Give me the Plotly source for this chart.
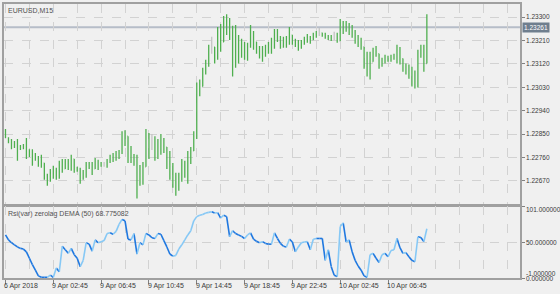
import plotly.graph_objects as go

# ---------------- data ----------------
tick_bars = [0, 16, 32, 48, 64, 80, 96, 112, 128]
tick_labels = ["6 Apr 2018", "9 Apr 02:45", "9 Apr 06:45", "9 Apr 10:45", "9 Apr 14:45",
               "9 Apr 18:45", "9 Apr 22:45", "10 Apr 02:45", "10 Apr 06:45"]
price_ticks = [1.22670, 1.22760, 1.22850, 1.22940, 1.23030, 1.23120, 1.23210, 1.23300]
last_price = 1.23261

open_ = [1.22857, 1.22831, 1.22823, 1.22808, 1.22812, 1.22796, 1.22800, 1.22804, 1.22785, 1.22777,
         1.22766, 1.22758, 1.22743, 1.22739, 1.22690, 1.22670, 1.22701, 1.22709, 1.22693, 1.22728,
         1.22716, 1.22739, 1.22728, 1.22754, 1.22716, 1.22712, 1.22678, 1.22705, 1.22731, 1.22728,
         1.22716, 1.22747, 1.22731, 1.22735, 1.22735, 1.22747, 1.22758, 1.22766, 1.22773, 1.22781,
         1.22823, 1.22842, 1.22785, 1.22766, 1.22747, 1.22701, 1.22678, 1.22724, 1.22823, 1.22804,
         1.22804, 1.22796, 1.22785, 1.22823, 1.22800, 1.22747, 1.22728, 1.22678, 1.22670, 1.22670,
         1.22728, 1.22716, 1.22747, 1.22785, 1.22842, 1.23014, 1.23033, 1.23082, 1.23121, 1.23174,
         1.23185, 1.23147, 1.23224, 1.23204, 1.23262, 1.23281, 1.23250, 1.23147, 1.23204, 1.23174,
         1.23185, 1.23166, 1.23185, 1.23243, 1.23204, 1.23185, 1.23166, 1.23174, 1.23166, 1.23185,
         1.23204, 1.23231, 1.23224, 1.23204, 1.23197, 1.23212, 1.23231, 1.23212, 1.23204, 1.23185,
         1.23204, 1.23212, 1.23224, 1.23212, 1.23231, 1.23239, 1.23239, 1.23231, 1.23224, 1.23220,
         1.23224, 1.23227, 1.23208, 1.23273, 1.23254, 1.23262, 1.23243, 1.23231, 1.23212, 1.23197,
         1.23185, 1.23128, 1.23121, 1.23128, 1.23166, 1.23159, 1.23121, 1.23128, 1.23140, 1.23140,
         1.23147, 1.23151, 1.23174, 1.23140, 1.23109, 1.23098, 1.23082, 1.23052, 1.23037, 1.23147,
         1.23174, 1.23121]

high = [1.22869, 1.22838, 1.22831, 1.22823, 1.22831, 1.22808, 1.22812, 1.22835, 1.22792, 1.22792,
        1.22777, 1.22766, 1.22770, 1.22739, 1.22697, 1.22716, 1.22728, 1.22720, 1.22747, 1.22754,
        1.22754, 1.22754, 1.22770, 1.22754, 1.22724, 1.22720, 1.22712, 1.22743, 1.22743, 1.22743,
        1.22758, 1.22751, 1.22743, 1.22743, 1.22754, 1.22770, 1.22777, 1.22785, 1.22789, 1.22861,
        1.22865, 1.22842, 1.22804, 1.22773, 1.22770, 1.22731, 1.22743, 1.22869, 1.22854, 1.22850,
        1.22842, 1.22831, 1.22850, 1.22835, 1.22800, 1.22785, 1.22739, 1.22701, 1.22701, 1.22754,
        1.22747, 1.22785, 1.22800, 1.22861, 1.23048, 1.23060, 1.23105, 1.23136, 1.23193, 1.23224,
        1.23185, 1.23262, 1.23273, 1.23304, 1.23311, 1.23296, 1.23266, 1.23269, 1.23231, 1.23216,
        1.23204, 1.23201, 1.23269, 1.23246, 1.23204, 1.23189, 1.23189, 1.23193, 1.23204, 1.23220,
        1.23254, 1.23254, 1.23227, 1.23224, 1.23227, 1.23262, 1.23231, 1.23216, 1.23212, 1.23212,
        1.23224, 1.23235, 1.23227, 1.23239, 1.23246, 1.23258, 1.23239, 1.23239, 1.23231, 1.23231,
        1.23243, 1.23239, 1.23292, 1.23285, 1.23285, 1.23277, 1.23269, 1.23250, 1.23231, 1.23220,
        1.23185, 1.23166, 1.23166, 1.23182, 1.23189, 1.23159, 1.23143, 1.23155, 1.23151, 1.23155,
        1.23159, 1.23193, 1.23185, 1.23140, 1.23121, 1.23117, 1.23109, 1.23094, 1.23174, 1.23193,
        1.23193, 1.23311]

low = [1.22835, 1.22815, 1.22792, 1.22796, 1.22747, 1.22789, 1.22792, 1.22754, 1.22762, 1.22728,
       1.22747, 1.22724, 1.22720, 1.22674, 1.22651, 1.22667, 1.22678, 1.22674, 1.22678, 1.22701,
       1.22716, 1.22712, 1.22709, 1.22701, 1.22705, 1.22659, 1.22674, 1.22682, 1.22716, 1.22693,
       1.22716, 1.22712, 1.22724, 1.22724, 1.22720, 1.22739, 1.22743, 1.22747, 1.22754, 1.22773,
       1.22804, 1.22739, 1.22739, 1.22728, 1.22602, 1.22651, 1.22655, 1.22724, 1.22754, 1.22789,
       1.22747, 1.22754, 1.22770, 1.22777, 1.22716, 1.22674, 1.22644, 1.22613, 1.22632, 1.22667,
       1.22682, 1.22659, 1.22735, 1.22785, 1.22831, 1.22995, 1.23033, 1.23079, 1.23109, 1.23159,
       1.23121, 1.23136, 1.23166, 1.23204, 1.23231, 1.23212, 1.23071, 1.23105, 1.23121, 1.23143,
       1.23136, 1.23132, 1.23182, 1.23174, 1.23159, 1.23140, 1.23128, 1.23147, 1.23159, 1.23159,
       1.23178, 1.23204, 1.23178, 1.23182, 1.23182, 1.23193, 1.23193, 1.23185, 1.23170, 1.23178,
       1.23193, 1.23201, 1.23197, 1.23212, 1.23220, 1.23227, 1.23224, 1.23216, 1.23212, 1.23208,
       1.23212, 1.23201, 1.23208, 1.23235, 1.23243, 1.23231, 1.23220, 1.23197, 1.23185, 1.23174,
       1.23101, 1.23071, 1.23060, 1.23128, 1.23147, 1.23101, 1.23109, 1.23121, 1.23128, 1.23128,
       1.23136, 1.23121, 1.23117, 1.23090, 1.23079, 1.23063, 1.23033, 1.23025, 1.23029, 1.23143,
       1.23090, 1.23121]

close = [1.22850, 1.22823, 1.22808, 1.22812, 1.22796, 1.22800, 1.22804, 1.22785, 1.22777, 1.22766,
         1.22758, 1.22743, 1.22747, 1.22701, 1.22670, 1.22701, 1.22709, 1.22693, 1.22728, 1.22716,
         1.22739, 1.22728, 1.22754, 1.22716, 1.22712, 1.22678, 1.22705, 1.22731, 1.22728, 1.22716,
         1.22747, 1.22731, 1.22735, 1.22735, 1.22747, 1.22758, 1.22766, 1.22773, 1.22781, 1.22823,
         1.22842, 1.22785, 1.22766, 1.22747, 1.22701, 1.22678, 1.22724, 1.22823, 1.22804, 1.22804,
         1.22796, 1.22785, 1.22823, 1.22800, 1.22747, 1.22728, 1.22678, 1.22670, 1.22674, 1.22728,
         1.22716, 1.22747, 1.22785, 1.22842, 1.23014, 1.23033, 1.23082, 1.23121, 1.23159, 1.23174,
         1.23147, 1.23224, 1.23204, 1.23262, 1.23281, 1.23250, 1.23147, 1.23204, 1.23174, 1.23185,
         1.23166, 1.23185, 1.23243, 1.23204, 1.23185, 1.23166, 1.23174, 1.23166, 1.23185, 1.23204,
         1.23231, 1.23224, 1.23204, 1.23197, 1.23212, 1.23231, 1.23212, 1.23204, 1.23185, 1.23204,
         1.23212, 1.23224, 1.23212, 1.23231, 1.23239, 1.23239, 1.23231, 1.23224, 1.23220, 1.23216,
         1.23224, 1.23208, 1.23273, 1.23254, 1.23262, 1.23243, 1.23231, 1.23212, 1.23197, 1.23185,
         1.23128, 1.23121, 1.23128, 1.23166, 1.23159, 1.23121, 1.23128, 1.23140, 1.23143, 1.23147,
         1.23151, 1.23174, 1.23140, 1.23109, 1.23098, 1.23082, 1.23052, 1.23037, 1.23147, 1.23174,
         1.23121, 1.23261]

rsi = [60, 53, 49, 46, 43, 41, 40, 36, 27, 18,
       10, 2, 0, 0, 0, 3, 0, 13, 8, 44,
       39, 34, 41, 32, 27, 15, 24, 49, 47, 37,
       53, 49, 50.5, 52, 62, 63, 61, 65, 75, 82,
       80, 54, 53, 62, 33, 49, 46, 62, 60, 56,
       55, 62, 61, 52, 43, 33, 30, 31, 40, 46,
       53, 60, 66, 80, 86, 88, 89, 91, 92, 93,
       91, 91.5, 84, 88, 86, 57.5, 66, 62, 60, 58,
       55, 60, 63, 54, 51, 49, 50.5, 48, 47, 47,
       63, 55, 48, 44, 43, 54, 50, 36, 43, 49,
       50, 50.5, 39, 54, 55, 55, 55, 24, 39, 15,
       3, 1, 72, 77, 50, 53, 36, 24, 16, 10,
       2, 0, 32, 34, 27, 21, 32, 34, 29, 38,
       39, 55, 42, 34, 35, 29, 24, 22, 57.5, 56.5,
       50.5, 68.775082]

# ---------------- styling ----------------
BG = "#F0F0F0"
GREEN = "#4FAF4F"
GRAY_BAR = "#C4C4C4"
DARK_BLUE = "#1F78E0"
LIGHT_BLUE = "#86C8F5"
GRID = "#D2D2D2"
AXIS = "#A0A0A0"
TXT = "#3A3A3A"
FONT = "Liberation Sans, Arial, sans-serif"

n = len(close)
idx = list(range(n))

fig = go.Figure()

green_i = [i for i in idx if open_[i] != close[i]]
gray_i = [i for i in idx if open_[i] == close[i]]

for sel, col in ((green_i, GREEN), (gray_i, GRAY_BAR)):
    fig.add_trace(go.Ohlc(
        x=sel,
        open=[open_[i] for i in sel], high=[high[i] for i in sel],
        low=[low[i] for i in sel], close=[close[i] for i in sel],
        increasing=dict(line=dict(color=col, width=1.3)),
        decreasing=dict(line=dict(color=col, width=1.3)),
        tickwidth=0.2, xaxis="x", yaxis="y", hoverinfo="skip"))

# indicator line coloured by slope
dx, dy, lx, ly = [], [], [], []
for i in range(n - 1):
    if rsi[i + 1] > rsi[i]:
        lx += [i, i + 1, None]; ly += [rsi[i], rsi[i + 1], None]
    else:
        dx += [i, i + 1, None]; dy += [rsi[i], rsi[i + 1], None]
fig.add_trace(go.Scatter(x=dx, y=dy, mode="lines", line=dict(color=DARK_BLUE, width=1.6),
                         xaxis="x2", yaxis="y2", hoverinfo="skip", connectgaps=False))
fig.add_trace(go.Scatter(x=lx, y=ly, mode="lines", line=dict(color=LIGHT_BLUE, width=1.6),
                         xaxis="x2", yaxis="y2", hoverinfo="skip", connectgaps=False))

grid_bars = list(range(0, 176, 8))
xr = [-0.5, -0.5 + 518 / 3]

common_x = dict(range=xr, showgrid=True, gridcolor=GRID, griddash="dash", gridwidth=1,
                showline=True, mirror=True, linecolor=AXIS, linewidth=1.5, zeroline=False,
                showticklabels=False)

fig.update_layout(
    width=560, height=294,
    margin=dict(l=2, r=40, t=2, b=16),
    paper_bgcolor=BG, plot_bgcolor=BG, showlegend=False,
    font=dict(family=FONT, size=7, color=TXT),
    xaxis=dict(domain=[0, 1], anchor="y", tickmode="array", tickvals=grid_bars, ticks="",
               rangeslider=dict(visible=False), **common_x),
    xaxis2=dict(domain=[0, 1], anchor="y2", matches="x", tickmode="array", tickvals=tick_bars,
                ticks="outside", ticklen=4, tickcolor="#808080",
                minor=dict(tickmode="array", tickvals=grid_bars, showgrid=True, gridcolor=GRID,
                           griddash="dash", ticks=""),
                **common_x),
    yaxis=dict(domain=[0.2681, 1], anchor="x", side="right", range=[1.22579, 1.23350],
               tickmode="array", tickvals=price_ticks, ticktext=[f"{v:.5f}" for v in price_ticks],
               ticks="outside", ticklen=3, tickcolor="#808080",
               tickfont=dict(size=6.5, color=TXT, family=FONT),
               showgrid=True, gridcolor=GRID, griddash="dash", zeroline=False,
               showline=True, mirror=True, linecolor=AXIS, linewidth=1.5),
    yaxis2=dict(domain=[0, 0.2627], anchor="x2", side="right", range=[-1, 101],
                tickmode="array", tickvals=[101, 50, -1], showticklabels=False,
                ticks="outside", ticklen=3, tickcolor="#808080",
                showgrid=True, gridcolor=GRID, griddash="dash", zeroline=False,
                showline=True, mirror=True, linecolor=AXIS, linewidth=1.5),
)

# current price line and label
fig.add_shape(type="line", xref="paper", x0=0, x1=1, yref="y", y0=last_price, y1=last_price,
              line=dict(color="#B6BDC8", width=2), layer="below")

ann = []
ann.append(dict(xref="paper", x=1, yref="y", y=last_price, text=f"{last_price:.5f}",
                showarrow=False, xanchor="left", xshift=2, bgcolor="#6F7E8E", borderpad=1,
                font=dict(color="white", size=6.5, family=FONT)))
ann.append(dict(xref="paper", x=0, yref="paper", y=1, text="EURUSD,M15", showarrow=False,
                xanchor="left", yanchor="top", xshift=2, yshift=-1,
                font=dict(size=7, color="#505050", family=FONT)))
ann.append(dict(xref="paper", x=0, yref="paper", y=0.2627,
                text=f"Rsi(var) zerolag DEMA (50) {rsi[-1]:.6f}", showarrow=False,
                xanchor="left", yanchor="top", xshift=2, yshift=-2,
                font=dict(size=7, color="#505050", family=FONT)))
for v, lab, sh in ((101, "101.000000", -3), (50, "50.000000", 0), (-1, "-1.000000", 5), (-1, "0.000000", 0)):
    ann.append(dict(xref="paper", x=1, yref="y2", y=v, text=lab, showarrow=False,
                    xanchor="left", yanchor="middle", xshift=4, yshift=sh,
                    font=dict(size=6.5, color=TXT, family=FONT)))
for b, lab in zip(tick_bars, tick_labels):
    ann.append(dict(xref="x2", x=b, yref="paper", y=0, text=lab, showarrow=False,
                    xanchor="left", yanchor="top", xshift=-3, yshift=-2,
                    font=dict(size=7, color=TXT, family=FONT)))
fig.update_layout(annotations=ann)

fig.write_html("out.html")
